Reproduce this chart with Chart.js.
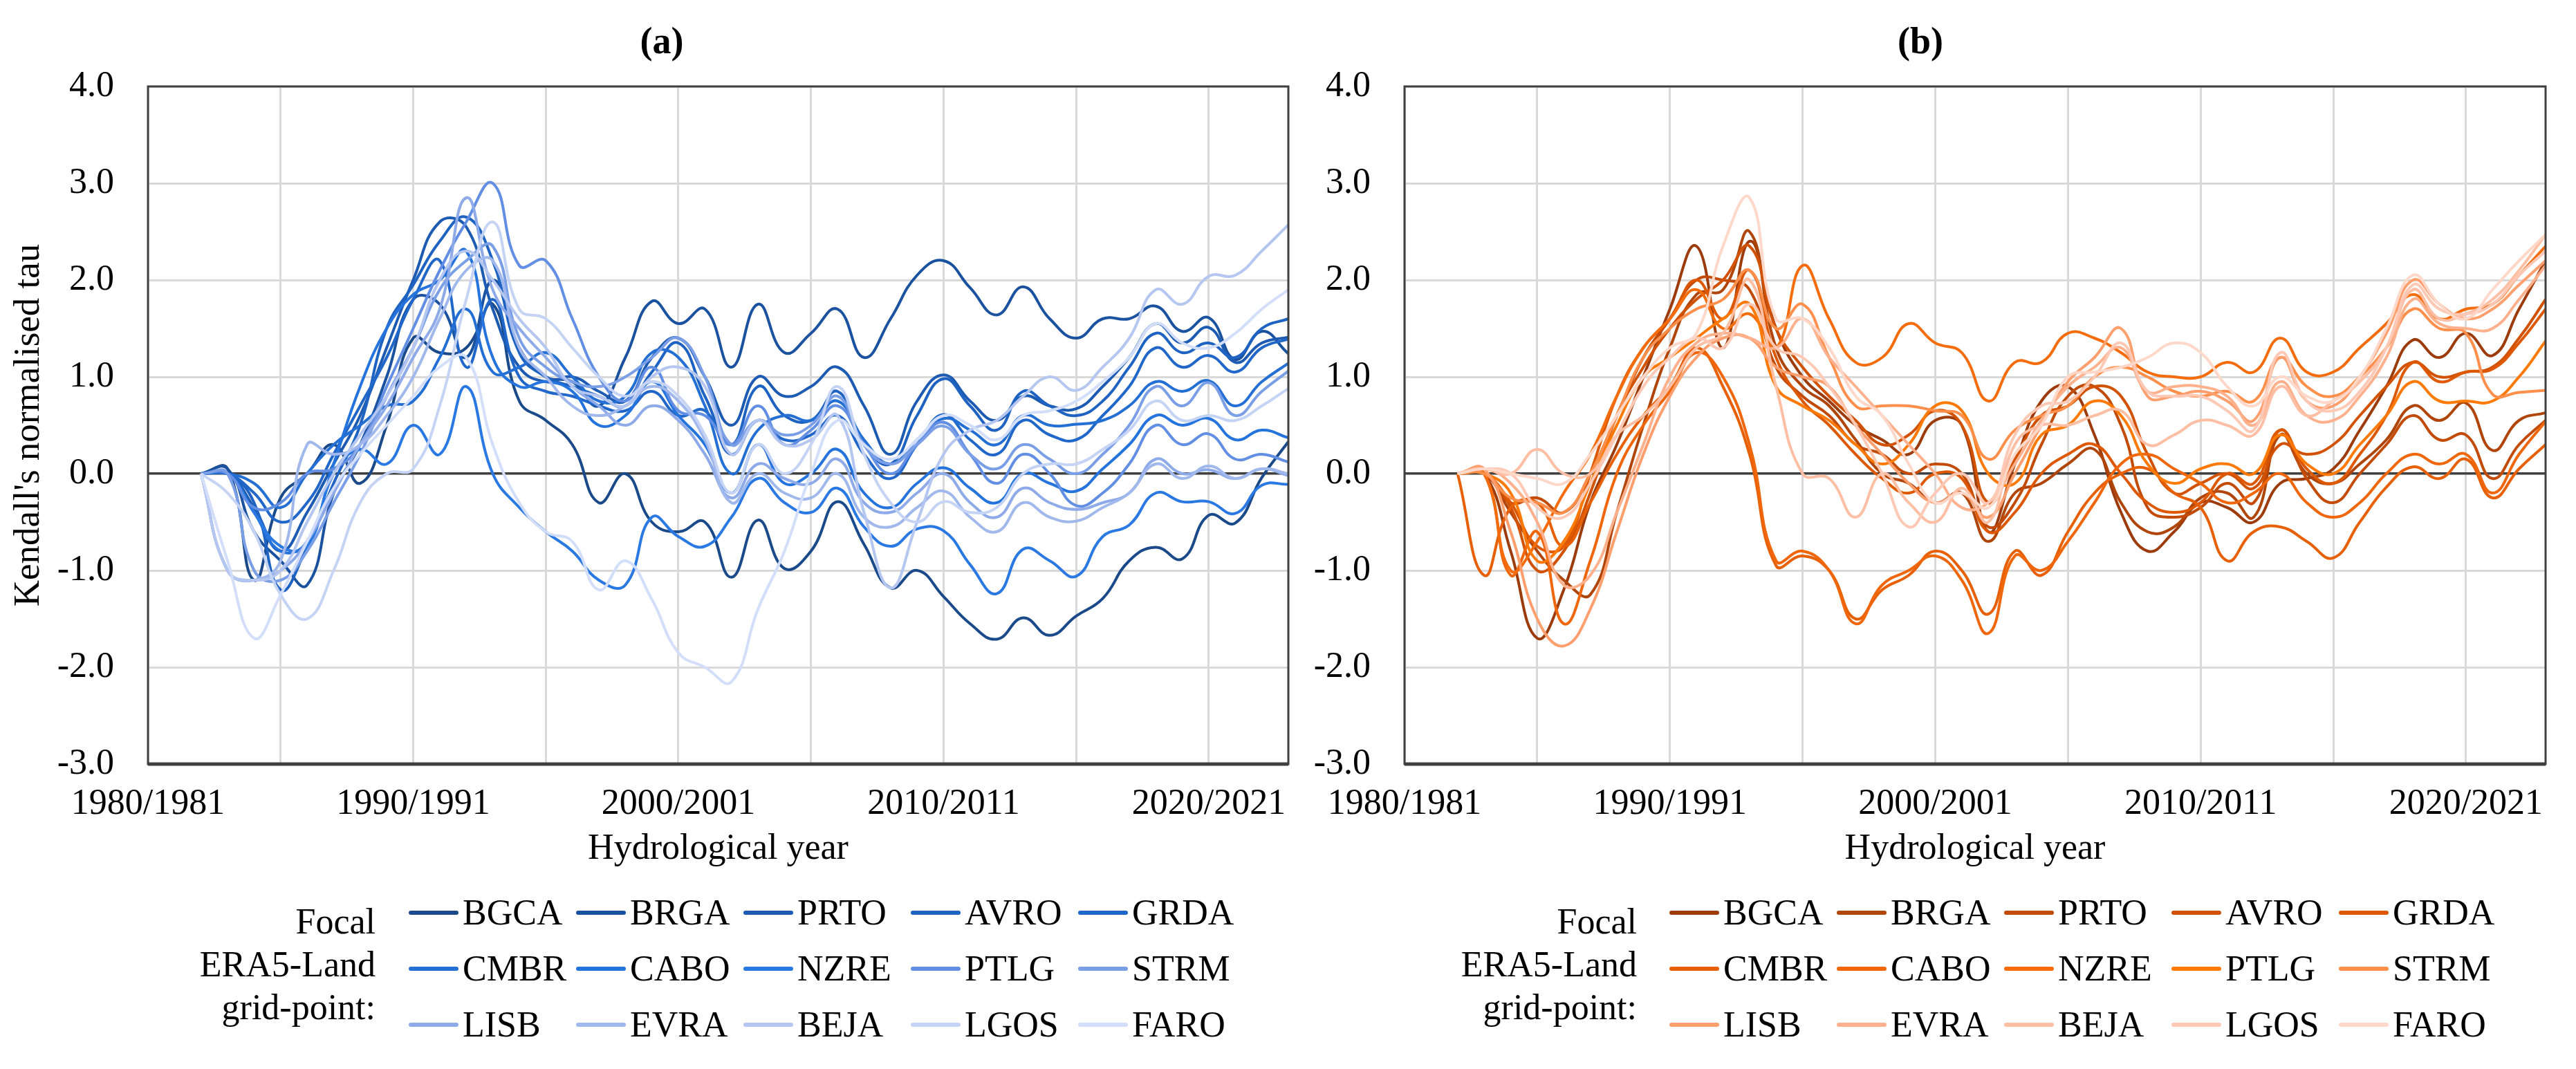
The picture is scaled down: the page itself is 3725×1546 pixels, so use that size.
<!DOCTYPE html>
<html>
<head>
<meta charset="utf-8">
<script src="https://cdn.jsdelivr.net/npm/chart.js@4.4.1/dist/chart.umd.min.js"></script>
<style>
    body { margin: 0; background: #fff; width: 3725px; height: 1546px; position: relative; overflow: hidden;
           font-family: "Liberation Serif", "Times New Roman", serif; color: #000; }
    .box { position: absolute; }
    .ptitle { position: absolute; top: 28px; font-weight: bold; font-size: 54px; line-height: 62px; transform: translateX(-50%); }
    .leglabel { position: absolute; top: 1302px; width: 320px; text-align: right; font-size: 52px; line-height: 62px; }
    .legend { position: absolute; top: 1279px; display: grid; grid-template-columns: repeat(5, 242px); grid-auto-rows: 81px; }
    .item { display: flex; align-items: center; font-size: 52px; white-space: nowrap; }
    .item i { display: inline-block; width: 72px; height: 6px; margin-right: 6px; border-radius: 3px; }
</style>
</head>
<body>
<div class="ptitle" style="left:957px">(a)</div>
<div class="ptitle" style="left:2777px">(b)</div>
<div class="box" style="left:0;top:0;width:1900px;height:1260px"><canvas id="chartA" width="1900" height="1260"></canvas></div>
<div class="box" style="left:1817px;top:0;width:1901px;height:1260px"><canvas id="chartB" width="1901" height="1260"></canvas></div>
<div class="leglabel" style="left:223px">Focal<br>ERA5-Land<br>grid-point:</div>
<div class="leglabel" style="left:2047px">Focal<br>ERA5-Land<br>grid-point:</div>
<div class="legend" id="legendA" style="left:591px"></div>
<div class="legend" id="legendB" style="left:2414px"></div>

<script>
// hydrological years on the category axis
const years = ['1980/1981', '1981/1982', '1982/1983', '1983/1984', '1984/1985', '1985/1986', '1986/1987', '1987/1988',
    '1988/1989', '1989/1990', '1990/1991', '1991/1992', '1992/1993', '1993/1994', '1994/1995', '1995/1996',
    '1996/1997', '1997/1998', '1998/1999', '1999/2000', '2000/2001', '2001/2002', '2002/2003', '2003/2004',
    '2004/2005', '2005/2006', '2006/2007', '2007/2008', '2008/2009', '2009/2010', '2010/2011', '2011/2012',
    '2012/2013', '2013/2014', '2014/2015', '2015/2016', '2016/2017', '2017/2018', '2018/2019', '2019/2020',
    '2020/2021', '2021/2022', '2022/2023', '2023/2024'];
const stations = ['BGCA', 'BRGA', 'PRTO', 'AVRO', 'GRDA', 'CMBR', 'CABO', 'NZRE', 'PTLG', 'STRM', 'LISB', 'EVRA', 'BEJA', 'LGOS', 'FARO'];
const yTicks = [-3, -2, -1, 0, 1, 2, 3, 4];

const blues = ['#1a4a8a', '#1b52a0', '#1d5bb3', '#1e62c2', '#2167ca', '#236fd3', '#2573dc', '#2a79e2', '#628fe4',
    '#7a9fe6', '#8eaae9', '#a1b8ec', '#b5c6f0', '#c5d3f4', '#d3defa'];
const oranges = ['#9c3c0c', '#b0450a', '#c24b07', '#d25203', '#de5802', '#e86006', '#f0660a', '#f46c0c', '#ff7a05',
    '#ff8f4a', '#ff9f6e', '#ffb08c', '#ffbfa4', '#ffc9b6', '#ffd8ca'];

// (a) values from 1982/1983 to 2023/2024
const A_BGCA = [0, 0.05, -1.1, -0.25, 0.0, 0.3, -0.1, 0.5, 1.4, 1.25, 1.3, 1.75, 0.75, 0.55, 0.3, -0.3, 0.0, -0.5, -0.6, -0.5, -1.07, -0.48, -0.98, -0.8, -0.29, -0.73, -1.18, -1.0, -1.27, -1.55, -1.71, -1.49, -1.67, -1.47, -1.29, -0.9, -0.76, -0.88, -0.43, -0.51, -0.04, 0.33];
const A_BRGA = [0, 0.05, -0.6, -0.9, -1.15, -0.2, 0.3, 1.0, 1.8, 1.75, 1.2, 2.0, 1.3, 1.0, 0.95, 0.7, 1.2, 1.78, 1.55, 1.7, 1.1, 1.75, 1.25, 1.45, 1.7, 1.2, 1.6, 2.05, 2.2, 1.92, 1.64, 1.93, 1.6, 1.4, 1.6, 1.6, 1.73, 1.47, 1.61, 1.18, 1.47, 1.24];
const A_PRTO = [0, 0.0, -0.35, -0.8, -0.4, 0.1, 0.6, 1.3, 2.0, 2.6, 2.55, 1.7, 1.1, 0.95, 1.0, 0.85, 0.75, 1.2, 1.4, 1.0, 0.5, 1.0, 0.8, 0.9, 1.1, 0.7, 0.2, 0.75, 1.02, 0.75, 0.55, 0.8, 0.7, 0.67, 0.9, 1.2, 1.55, 1.35, 1.51, 1.15, 1.35, 1.41];
const A_AVRO = [0, 0.0, -0.3, -1.2, -0.75, -0.1, 0.5, 1.5, 1.95, 2.4, 2.65, 2.2, 1.25, 1.0, 0.9, 0.8, 0.7, 1.05, 1.35, 0.8, 0.3, 0.9, 0.6, 0.55, 0.85, 0.3, 0.1, 0.6, 0.98, 0.7, 0.45, 0.85, 0.7, 0.6, 0.75, 1.1, 1.45, 1.25, 1.35, 1.2, 1.5, 1.6];
const A_GRDA = [0, 0.0, -0.2, -0.5, -0.3, 0.2, 0.7, 1.2, 1.8, 2.2, 1.1, 1.8, 1.0, 0.85, 0.8, 0.7, 0.65, 0.85, 0.6, 0.65, 0.2, 0.55, 0.35, 0.4, 0.6, 0.2, -0.05, 0.3, 0.61, 0.35, 0.2, 0.55, 0.4, 0.35, 0.6, 0.9, 1.3, 1.1, 1.22, 1.05, 1.3, 1.39];
const A_CMBR = [0, 0.0, -0.1, -0.35, 0.0, 0.3, 0.5, 0.7, 0.75, 1.2, 1.7, 1.05, 1.1, 1.25, 1.0, 0.75, 0.8, 1.25, 1.2, 0.7, 0.0, 0.45, 0.6, 0.55, 0.75, 0.35, 0.1, 0.35, 0.57, 0.45, 0.3, 0.6, 0.5, 0.51, 0.55, 0.7, 0.95, 0.85, 0.96, 0.7, 0.95, 1.14];
const A_CABO = [0, 0.0, -0.4, -0.8, -0.7, 0.1, 0.9, 1.5, 1.85, 2.0, 2.3, 1.2, 0.9, 0.95, 0.85, 0.5, 0.6, 0.95, 0.6, 0.3, -0.2, 0.3, -0.1, 0.0, 0.25, -0.2, -0.35, -0.1, 0.06, -0.15, -0.3, 0.0, -0.1, -0.18, 0.05, 0.3, 0.6, 0.5, 0.57, 0.35, 0.45, 0.37];
const A_NZRE = [0, 0.0, -0.4, -0.75, -0.75, 0.0, 0.25, 0.1, 0.5, 0.2, 0.9, 0.0, -0.35, -0.6, -0.8, -1.1, -1.15, -0.45, -0.65, -0.75, -0.45, -0.05, -0.3, -0.4, -0.15, -0.55, -0.75, -0.57, -0.59, -0.94, -1.24, -0.78, -0.9, -1.06, -0.65, -0.53, -0.2, -0.29, -0.29, -0.41, -0.12, -0.11];
const A_PTLG = [0, 0.0, -0.35, -0.3, 0.0, 0.05, 0.3, 0.9, 1.5, 2.1, 2.6, 3.0, 2.15, 2.2, 1.6, 1.0, 0.75, 1.1, 0.65, 0.6, 0.3, 0.7, 0.3, 0.45, 0.7, 0.3, 0.0, 0.3, 0.53, 0.2, -0.1, 0.2, 0.0, -0.33, -0.2, 0.1, 0.5, 0.3, 0.41, 0.15, 0.2, 0.12];
const A_STRM = [0, 0.0, -1.0, -1.1, -0.8, -0.3, 0.2, 0.8, 1.3, 1.9, 2.2, 2.35, 1.4, 1.1, 0.95, 0.9, 1.0, 1.2, 1.4, 1.0, 0.3, 0.55, 0.4, 0.5, 0.8, 0.3, 0.1, 0.3, 0.49, 0.2, 0.05, 0.3, 0.15, 0.0, 0.2, 0.5, 0.9, 0.7, 0.94, 0.6, 0.85, 1.06];
const A_LISB = [0, -1.0, -1.1, -1.0, -0.7, -0.2, 0.3, 0.7, 1.2, 1.7, 2.85, 1.9, 1.5, 1.2, 0.9, 0.7, 0.5, 0.7, 0.55, 0.2, -0.25, 0.1, -0.05, -0.1, 0.15, -0.3, -0.4, -0.2, 0.0, -0.3, -0.45, -0.15, -0.3, -0.37, -0.3, -0.2, 0.15, 0.0, 0.04, -0.05, 0.05, -0.02];
const A_EVRA = [0, -1.0, -1.1, -0.9, 0.3, 0.2, 0.3, 0.6, 1.0, 1.6, 2.1, 2.2, 1.3, 1.0, 0.7, 0.6, 0.7, 0.9, 0.75, 0.35, -0.3, 0.0, -0.2, -0.25, 0.0, -0.45, -0.55, -0.35, -0.18, -0.45, -0.6, -0.3, -0.45, -0.49, -0.35, -0.2, 0.1, -0.05, 0.08, -0.05, 0.05, 0.0];
const A_BEJA = [0, -1.0, -1.1, -1.0, -0.5, 0.0, 0.4, 0.8, 1.3, 2.0, 2.3, 2.0, 1.6, 1.3, 0.9, 0.8, 0.7, 1.0, 1.1, 0.9, 0.2, 0.55, 0.3, 0.35, 0.6, -0.4, -1.18, -0.5, 0.2, 0.45, 0.55, 0.8, 1.0, 0.86, 1.1, 1.4, 1.9, 1.75, 2.04, 2.05, 2.3, 2.57];
const A_LGOS = [0, -0.2, -0.6, -1.25, -1.5, -1.0, -0.3, 0.0, 0.05, 0.7, 1.8, 2.6, 1.7, 1.6, 1.3, 1.0, 0.8, 0.95, 0.8, 0.4, -0.2, 0.3, 0.0, 0.3, 0.9, 0.2, -0.3, -0.5, -0.29, -0.4, -0.35, 0.0, 0.1, 0.1, 0.25, 0.45, 0.75, 0.55, 0.6, 0.55, 0.7, 0.88];
const A_FARO = [0, -0.9, -1.7, -1.25, -0.7, -0.15, 0.2, 0.5, 0.8, 1.1, 1.2, 0.3, -0.3, -0.6, -0.7, -1.2, -0.9, -1.3, -1.85, -2.0, -2.15, -1.4, -0.8, 0.0, 0.55, 0.3, 0.15, 0.35, 0.6, 0.5, 0.35, 0.6, 0.65, 0.75, 0.95, 1.2, 1.55, 1.35, 1.3, 1.45, 1.7, 1.9];

// (b) values from 1982/1983 to 2023/2024
const B_BGCA = [0, 0.0, -0.8, -1.7, -1.2, -0.3, 0.3, 1.0, 1.7, 2.35, 1.3, 2.4, 1.5, 1.0, 0.75, 0.5, 0.35, 0.2, 0.55, 0.5, -0.6, 0.1, 0.75, 0.9, 0.4, -0.4, -0.8, -0.6, -0.3, -0.35, -0.5, -0.1, -0.05, 0.05, 0.45, 0.9, 1.38, 1.2, 1.45, 1.22, 1.7, 2.2];
const B_BRGA = [0, 0.0, -0.4, -0.8, -1.1, -1.25, -0.4, 0.5, 1.3, 1.85, 1.9, 2.5, 1.3, 0.9, 0.7, 0.35, 0.0, -0.1, -0.3, -0.2, -0.7, -0.2, -0.1, 0.1, 0.25, -0.3, -0.6, -0.55, -0.25, -0.2, -0.45, 0.4, 0.0, -0.1, 0.1, 0.35, 0.7, 0.55, 0.73, 0.24, 0.55, 0.63];
const B_PRTO = [0, 0.0, -0.3, -0.25, -0.4, 0.0, 0.6, 1.2, 1.6, 2.0, 2.0, 1.9, 1.1, 0.8, 0.6, 0.3, 0.2, 0.0, 0.1, 0.0, -0.55, -0.3, 0.3, 0.8, 0.9, 0.5, -0.35, -0.45, -0.35, -0.1, -0.3, 0.45, -0.05, -0.3, 0.0, 0.3, 0.6, 0.35, 0.4, -0.05, 0.3, 0.55];
const B_AVRO = [0, 0.0, -0.35, -1.0, -0.8, -0.2, 0.6, 1.1, 1.5, 1.8, 2.0, 2.35, 1.5, 1.1, 0.8, 0.55, 0.3, 0.4, 0.65, 0.5, -0.3, 0.15, 0.6, 0.7, 0.9, 0.8, 0.2, -0.2, -0.1, 0.0, -0.15, 0.3, 0.2, 0.3, 0.6, 0.9, 1.15, 1.0, 1.05, 1.1, 1.4, 1.8];
const B_GRDA = [0, 0.0, -0.3, -0.75, -0.75, 0.0, 0.8, 1.3, 1.6, 2.0, 1.6, 2.1, 1.2, 0.75, 0.5, 0.2, -0.05, -0.2, 0.0, -0.05, -0.6, -0.4, 0.0, 0.2, 0.3, 0.0, -0.3, -0.4, -0.3, 0.0, -0.1, 0.45, 0.05, -0.1, 0.2, 0.6, 1.15, 0.95, 1.05, 1.08, 1.35, 1.7];
const B_CMBR = [0, -1.05, -0.35, -0.3, -0.75, -0.3, 0.2, 0.6, 0.9, 1.3, 0.9, 0.2, -0.95, -0.85, -1.0, -1.5, -1.2, -1.05, -0.8, -1.0, -1.45, -0.8, -1.05, -0.6, -0.2, 0.0, 0.05, -0.2, -0.35, -0.9, -0.6, -0.55, -0.7, -0.87, -0.5, -0.14, 0.07, -0.05, 0.15, -0.25, 0.05, 0.3];
const B_CABO = [0, 0.0, -1.05, -0.6, -1.55, -0.9, 0.0, 0.5, 0.85, 1.25, 1.0, 0.3, -0.9, -0.8, -1.0, -1.55, -1.15, -1.0, -0.85, -1.1, -1.65, -0.85, -1.0, -0.7, -0.3, 0.1, 0.2, 0.05, -0.1, -0.3, -0.2, 0.0, -0.3, -0.45, -0.3, 0.0, 0.2, 0.1, 0.2, -0.2, 0.2, 0.54];
const B_NZRE = [0, 0.0, -1.0, -0.7, -0.2, 0.2, 0.8, 1.3, 1.6, 1.9, 1.5, 1.65, 1.3, 2.15, 1.6, 1.15, 1.2, 1.55, 1.35, 1.25, 0.75, 1.15, 1.15, 1.45, 1.4, 1.25, 1.05, 1.0, 1.0, 1.15, 1.05, 1.4, 1.05, 1.05, 1.3, 1.55, 1.85, 1.6, 1.7, 1.75, 2.05, 2.35];
const B_PTLG = [0, 0.0, -0.2, -0.9, -0.7, -0.1, 0.5, 1.0, 1.2, 1.4, 1.6, 1.75, 0.9, 0.7, 0.55, 0.3, 0.1, 0.3, 0.7, 0.65, 0.0, -0.1, 0.4, 0.5, 0.75, 0.6, 0.1, -0.1, 0.05, 0.1, 0.0, 0.4, 0.1, 0.0, 0.3, 0.6, 0.95, 0.75, 0.75, 0.75, 1.0, 1.37];
const B_STRM = [0, 0.0, -0.25, -0.3, -0.4, 0.0, 0.6, 1.2, 1.5, 1.7, 1.8, 2.1, 1.5, 1.75, 1.2, 0.7, 0.7, 0.7, 0.65, 0.6, 0.15, 0.45, 0.6, 0.7, 1.0, 1.1, 1.0, 0.85, 0.8, 0.85, 0.75, 1.2, 0.9, 0.8, 1.0, 1.3, 1.7, 1.5, 1.45, 0.82, 0.84, 0.86];
const B_LISB = [0, 0.05, -0.6, -1.5, -1.78, -1.4, -0.6, 0.2, 0.8, 1.2, 1.4, 1.4, 1.1, 1.0, 0.9, 0.5, 0.2, -0.1, -0.3, -0.2, -0.45, 0.0, 0.5, 0.95, 1.2, 1.5, 0.8, 0.8, 0.85, 0.75, 0.55, 1.2, 0.75, 0.7, 1.0, 1.45, 2.0, 1.75, 1.6, 1.7, 1.95, 2.2];
const B_EVRA = [0, 0.05, -0.1, -0.5, -1.15, -1.05, -0.4, 0.3, 1.0, 1.35, 1.45, 1.4, 1.3, 1.6, 1.2, 0.9, 0.6, 0.3, 0.0, -0.35, -0.3, 0.1, 0.55, 0.9, 1.1, 1.3, 0.85, 0.9, 0.9, 0.8, 0.5, 0.95, 0.6, 0.55, 0.8, 1.2, 1.8, 1.55, 1.5, 1.5, 1.8, 2.15];
const B_BEJA = [0, 0.05, 0.0, 0.25, 0.0, 0.0, 0.4, 0.6, 0.9, 1.3, 1.45, 2.0, 0.9, 0.0, -0.05, -0.45, 0.0, -0.3, -0.5, -0.15, -0.5, 0.3, 0.5, 0.5, 0.6, 0.65, 0.3, 0.4, 0.55, 0.5, 0.4, 0.9, 0.6, 0.75, 0.95, 1.3, 1.9, 1.6, 1.65, 1.8, 2.1, 2.47];
const B_LGOS = [0, 0.05, 0.0, -0.35, -0.45, -0.1, 0.4, 0.9, 1.2, 1.4, 1.3, 1.75, 1.3, 1.2, 0.9, 0.5, 0.0, -0.55, -0.2, 0.0, -0.3, 0.4, 0.7, 0.75, 1.0, 1.35, 0.85, 0.8, 0.8, 0.65, 0.45, 1.25, 0.75, 0.65, 0.85, 1.3, 1.95, 1.7, 1.65, 1.75, 2.05, 2.3];
const B_FARO = [0, 0.05, 0.0, -0.05, -0.1, 0.2, 0.6, 1.0, 1.3, 1.45, 2.35, 2.85, 1.6, 1.6, 1.3, 0.8, 0.6, 0.1, -0.3, -0.2, -0.35, 0.2, 0.5, 1.0, 1.05, 1.1, 1.2, 1.35, 1.25, 0.9, 0.7, 1.0, 0.8, 0.75, 1.0, 1.5, 2.05, 1.75, 1.6, 1.9, 2.2, 2.47];

const seriesA = [A_BGCA, A_BRGA, A_PRTO, A_AVRO, A_GRDA, A_CMBR, A_CABO, A_NZRE, A_PTLG, A_STRM, A_LISB, A_EVRA, A_BEJA, A_LGOS, A_FARO];
const seriesB = [B_BGCA, B_BRGA, B_PRTO, B_AVRO, B_GRDA, B_CMBR, B_CABO, B_NZRE, B_PTLG, B_STRM, B_LISB, B_EVRA, B_BEJA, B_LGOS, B_FARO];

Chart.defaults.font.family = '"Liberation Serif", "Times New Roman", serif';
Chart.defaults.font.size = 52;
Chart.defaults.color = '#000';

// dark frame round the plot area
const framePlugin = {
    id: 'frame',
    afterDatasetsDraw(chart) {
        const a = chart.chartArea;
        const ctx = chart.ctx;
        ctx.save();
        ctx.strokeStyle = '#404040';
        ctx.lineWidth = 3;
        ctx.strokeRect(a.left, a.top, a.right - a.left, a.bottom - a.top);
        ctx.lineWidth = 5;
        ctx.beginPath();
        ctx.moveTo(a.left, a.bottom);
        ctx.lineTo(a.right, a.bottom);
        ctx.stroke();
        ctx.restore();
    }
};

function makeChart(id, series, colors, yTitle) {
    const datasets = series.map((vals, i) => ({
        label: stations[i],
        data: [null, null].concat(vals),   // first two hydrological years have no value
        borderColor: colors[i],
        borderWidth: 4,
        pointRadius: 0,
        tension: 0.45,
        fill: false,
        order: series.length - i
    }));
    return new Chart(document.getElementById(id), {
        type: 'line',
        data: { labels: years, datasets: datasets },
        options: {
            responsive: false,
            devicePixelRatio: 1,
            animation: false,
            layout: { padding: { top: 125, right: 37, left: 0, bottom: 0 } },
            plugins: { legend: { display: false }, tooltip: { enabled: false } },
            scales: {
                x: {
                    type: 'category',
                    offset: false,
                    afterFit: (s) => { s.height = 155; },
                    border: { display: false },
                    grid: {
                        drawTicks: false,
                        lineWidth: 3,
                        color: (c) => (c.index % 5 === 0 ? '#d9d9d9' : 'rgba(0,0,0,0)')
                    },
                    ticks: {
                        autoSkip: false, maxRotation: 0, minRotation: 0, padding: 27,
                        callback: (v, i) => (i % 10 === 0 ? years[i] : '')
                    },
                    title: { display: true, text: 'Hydrological year', padding: { top: 0, bottom: 0 } }
                },
                y: {
                    min: -3, max: 4,
                    afterFit: (s) => { s.width = 214; },
                    afterBuildTicks: (s) => { s.ticks = yTicks.map(v => ({ value: v })); },
                    border: { display: false },
                    grid: {
                        drawTicks: false,
                        lineWidth: (c) => (c.tick && c.tick.value === 0 ? 3.5 : 3),
                        color: (c) => (c.tick && c.tick.value === 0 ? '#404040' : '#d9d9d9')
                    },
                    ticks: { padding: 49, callback: (v) => Number(v).toFixed(1) },
                    title: { display: !!yTitle, text: yTitle || '', font: { size: 53 }, padding: { top: 10, bottom: 0 } }
                }
            }
        },
        plugins: [framePlugin]
    });
}

function makeLegend(id, colors) {
    const box = document.getElementById(id);
    stations.forEach((name, i) => {
        const item = document.createElement('div');
        item.className = 'item';
        item.innerHTML = `<i style="background:${colors[i]}"></i>${name}`;
        box.appendChild(item);
    });
}

makeChart('chartA', seriesA, blues, "Kendall's normalised tau");
makeChart('chartB', seriesB, oranges, null);
makeLegend('legendA', blues);
makeLegend('legendB', oranges);
</script>
</body>
</html>
